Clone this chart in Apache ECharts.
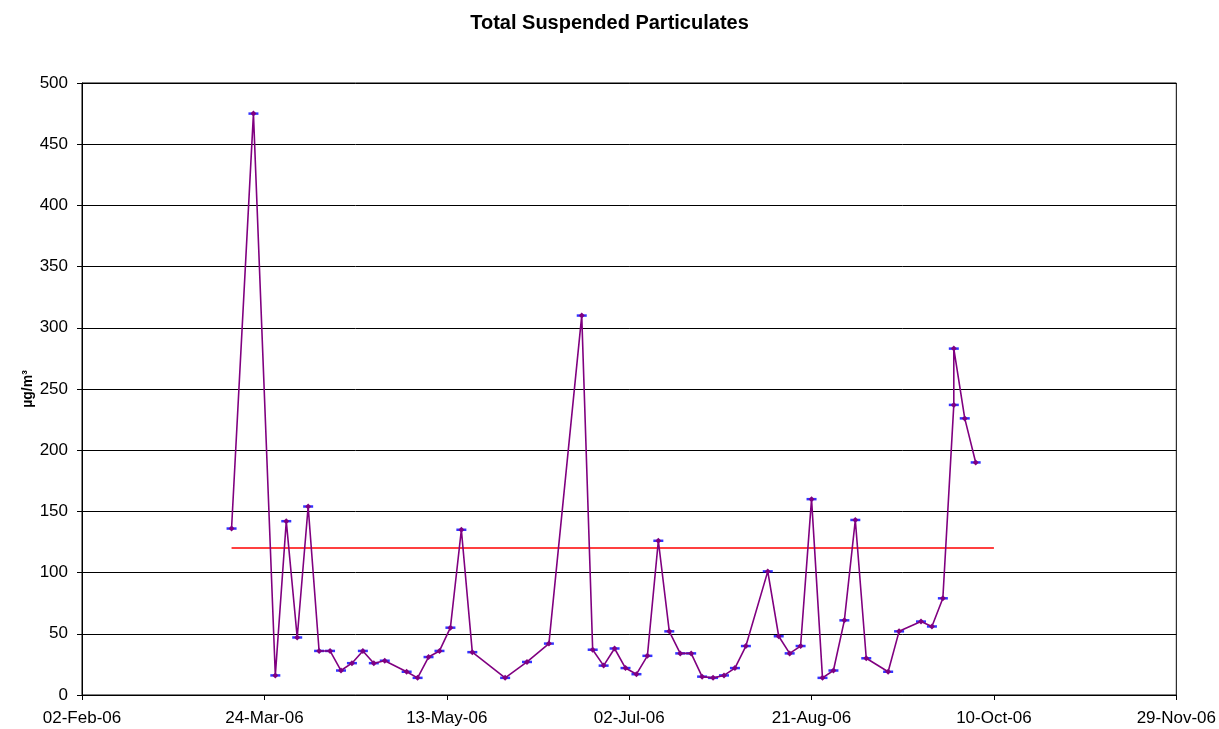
<!DOCTYPE html>
<html>
<head>
<meta charset="utf-8">
<script src="https://cdn.jsdelivr.net/npm/echarts@6/dist/echarts.min.js"></script>
<style>
html,body{margin:0;padding:0;background:#fff;}
#c{width:1219px;height:729px;}
</style>
</head>
<body>
<div id="c"></div>
<script>
// ---- Data ----
const dates = [
  '2006-03-15','2006-03-21','2006-03-27','2006-03-30','2006-04-02','2006-04-05','2006-04-08','2006-04-11',
  '2006-04-14','2006-04-17','2006-04-20','2006-04-23','2006-04-26','2006-05-02','2006-05-05','2006-05-08',
  '2006-05-11','2006-05-14','2006-05-17','2006-05-20','2006-05-29','2006-06-04','2006-06-10','2006-06-19',
  '2006-06-22','2006-06-25','2006-06-28','2006-07-01','2006-07-04','2006-07-07','2006-07-10','2006-07-13',
  '2006-07-16','2006-07-19','2006-07-22','2006-07-25','2006-07-28','2006-07-31','2006-08-03','2006-08-09',
  '2006-08-12','2006-08-15','2006-08-18','2006-08-21','2006-08-24','2006-08-27','2006-08-30','2006-09-02',
  '2006-09-05','2006-09-11','2006-09-14','2006-09-20','2006-09-23','2006-09-26','2006-09-29','2006-09-29',
  '2006-10-02','2006-10-05'
];
const tsp = [
  136, 475, 16, 142, 47, 154, 36, 36,
  20, 26, 36, 26, 28, 19, 14, 31,
  36, 55, 135, 35, 14, 27, 42, 310,
  37, 24, 38, 22, 17, 32, 126, 52,
  34, 34, 15, 14, 16, 22, 40, 101,
  48, 34, 40, 160, 14, 20, 61, 143,
  30, 19, 52, 60, 56, 79, 237, 283,
  226, 190
];
const limitDates = ['2006-03-15', '2006-10-10'];
const limitValues = [120, 120];
const yTicks = [0, 50, 100, 150, 200, 250, 300, 350, 400, 450, 500];
const xTickStart = '2006-02-02';
const xTickEnd = '2006-11-29';
const xTickStepDays = 50;

// ---- helpers ----
const MONTHS = ['Jan','Feb','Mar','Apr','May','Jun','Jul','Aug','Sep','Oct','Nov','Dec'];
const EPOCH = Date.UTC(1899, 11, 30);
function serial(s) {
  const [y, m, d] = s.split('-').map(Number);
  return Math.round((Date.UTC(y, m - 1, d) - EPOCH) / 86400000);
}
function fmt(v) {
  const dt = new Date(EPOCH + v * 86400000);
  const d = String(dt.getUTCDate()).padStart(2, '0');
  return d + '-' + MONTHS[dt.getUTCMonth()] + '-' + String(dt.getUTCFullYear()).slice(2);
}

const mainData = dates.map((d, i) => [serial(d), tsp[i]]);
const limitData = limitDates.map((d, i) => [serial(d), limitValues[i]]);

const FONT = 'Liberation Sans, Arial, sans-serif';
const chart = echarts.init(document.getElementById('c'), null, { renderer: 'canvas' });
chart.setOption({
  animation: false,
  backgroundColor: '#fff',
  title: {
    text: 'Total Suspended Particulates',
    left: 'center',
    top: 8,
    textStyle: { fontFamily: FONT, fontSize: 20, fontWeight: 'bold', color: '#000' }
  },
  grid: {
    left: 82, right: 42, top: 83, bottom: 34,
    show: true, borderColor: '#000', borderWidth: 1, backgroundColor: '#fff'
  },
  xAxis: {
    type: 'value',
    min: serial(xTickStart),
    max: serial(xTickEnd),
    interval: xTickStepDays,
    axisLine: { show: true, lineStyle: { color: '#000', width: 1 } },
    axisTick: { show: true, length: 5, lineStyle: { color: '#000' } },
    splitLine: { show: false },
    axisLabel: { formatter: fmt, fontFamily: FONT, fontSize: 17, color: '#000', margin: 15 }
  },
  yAxis: {
    type: 'value',
    min: yTicks[0],
    max: yTicks[yTicks.length - 1],
    interval: yTicks[1] - yTicks[0],
    name: 'µg/m³',
    nameLocation: 'middle',
    nameGap: 47,
    nameMoveOverlap: false,
    nameRotate: 90,
    nameTextStyle: { fontFamily: FONT, fontSize: 14, fontWeight: 'bold', color: '#000' },
    axisLine: { show: true, lineStyle: { color: '#000', width: 1 } },
    axisTick: { show: true, length: 5, lineStyle: { color: '#000' } },
    splitLine: { show: true, lineStyle: { color: '#000', width: 1 } },
    axisLabel: { fontFamily: FONT, fontSize: 17, color: '#000', margin: 14 }
  },
  series: [
    {
      type: 'line',
      data: limitData,
      symbol: 'none',
      lineStyle: { color: '#FF0000', width: 1.5 },
      z: 2
    },
    {
      type: 'scatter',
      data: mainData,
      symbol: 'rect',
      symbolSize: [10, 2.5],
      itemStyle: { color: '#0000FF' },
      z: 3
    },
    {
      type: 'line',
      data: mainData,
      symbol: 'diamond',
      symbolSize: 6,
      showSymbol: true,
      itemStyle: { color: '#800080', borderWidth: 0 },
      lineStyle: { color: '#800080', width: 1.6 },
      z: 4
    }
  ]
});
</script>
</body>
</html>
